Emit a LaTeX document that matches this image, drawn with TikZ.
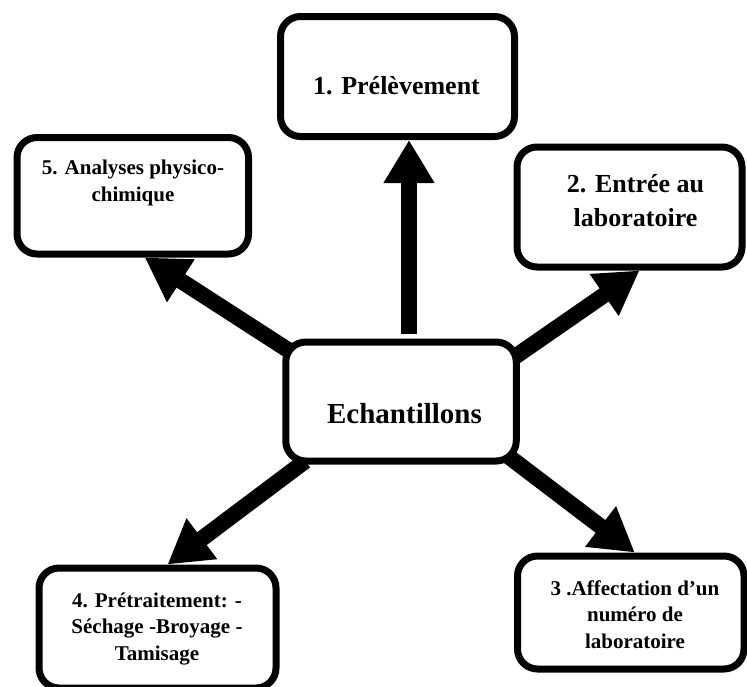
\documentclass[tikz,border=0pt]{standalone}
\usepackage{fontspec}
\setmainfont{Liberation Serif}
\usetikzlibrary{
  arrows.meta,
  calc
}
\pgfdeclarelayer{bg}
\pgfsetlayers{bg,main}
\tikzset{
  box/.style={
    draw, line width=7pt, rounded corners=20pt, fill=white,
    inner sep=0pt
  },
  lbl/.style={
    font=\bfseries\fontsize{21}{26.5}\selectfont,
    align=center, inner sep=0pt, anchor=base
  },
  biglbl/.style={
    lbl, font=\bfseries\fontsize{26}{34}\selectfont
  },
  fat arrow/.style={
    line width=16pt,
    -{Triangle[length=43pt,width=48pt]}
  }
}

\begin{document}
\begin{tikzpicture}[x=1pt,y=-1pt]
\useasboundingbox (0,0) rectangle (747,686);

\node[box, minimum width=234pt, minimum height=120pt] (b1) at (397.5,76.5) {};
\node[box, minimum width=225pt, minimum height=120pt] (b2) at (629.5,207) {};
\node[box, minimum width=226.5pt, minimum height=113pt] (b3) at (630.75,612.5) {};
\node[box, minimum width=237pt, minimum height=120pt] (b4) at (157.5,628) {};
\node[box, minimum width=231.5pt, minimum height=116.5pt] (b5) at (132.75,195.75) {};
\node[box, minimum width=230.5pt, minimum height=119pt] (c) at (401,401.5) {};

% base anchor sits on the last line
\node[biglbl] (t1) at (396.5,94) {1. Prélèvement};
\node[biglbl] (t2) at (635.5,226) {2. Entrée au\\laboratoire};
\node[lbl] (t3) at (635,648) {3 .Affectation d’un\\numéro de\\laboratoire};
\node[lbl] (t4) at (157,660) {4. Prétraitement: -\\Séchage -Broyage -\\Tamisage};
\node[lbl] (t5) at (133,201) {5. Analyses physico-\\chimique};
\node[lbl, font=\bfseries\fontsize{29}{34}\selectfont] (tc) at (404.5,423) {Echantillons};

\begin{pgfonlayer}{bg}
  \draw[fat arrow] ([xshift=8pt,yshift=5pt]c.north) -- ([xshift=11.5pt]b1.south);
  \draw[fat arrow] ([xshift=-7.75pt,yshift=-20.3pt]c.north east) -- ([xshift=10pt]b2.south);
  \draw[fat arrow] ([xshift=-11.75pt,yshift=8.5pt]c.south east) -- ([xshift=4pt]b3.north);
  \draw[fat arrow] ([xshift=23pt,yshift=3.5pt]c.south west) -- ([xshift=10pt]b4.north);
  \draw[fat arrow] ([xshift=12.75pt,yshift=-16pt]c.north west) -- ([xshift=12pt]b5.south);
\end{pgfonlayer}
\end{tikzpicture}
\end{document}
